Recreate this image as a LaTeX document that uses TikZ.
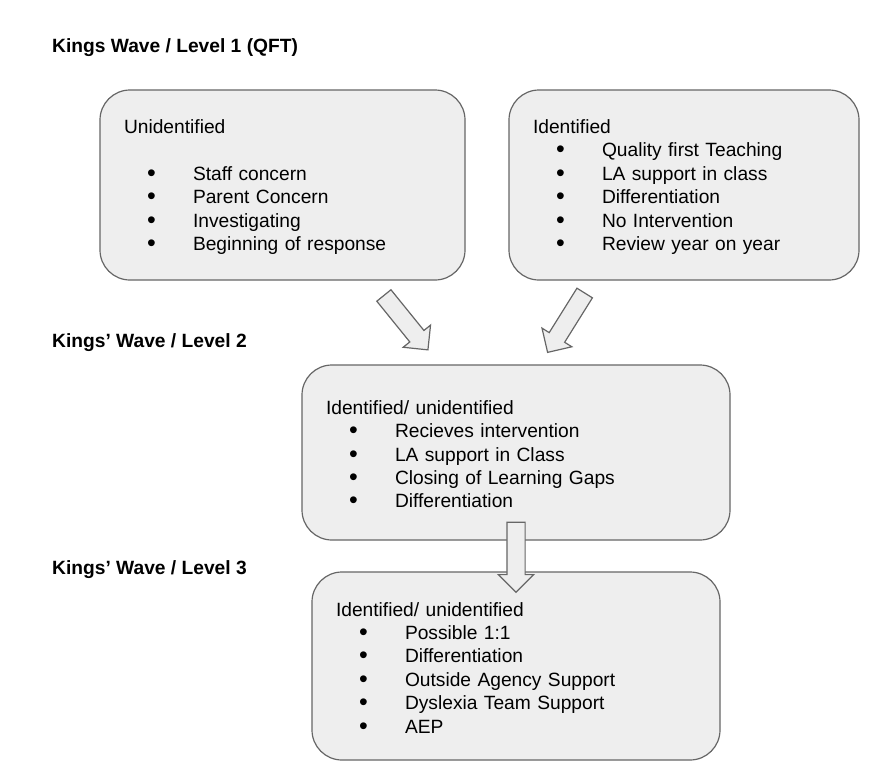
\documentclass[tikz,border=0pt]{standalone}
\usepackage{fontspec}
\setmainfont{Liberation Sans}
\usetikzlibrary{shapes.arrows,positioning}
\definecolor{boxfill}{HTML}{EEEEEE}
\definecolor{boxline}{HTML}{666666}
\newcommand{\itm}[1]{\hspace*{23pt}\makebox[46pt][l]{\raisebox{-1pt}{\scalebox{1.3}{\textbullet}}}#1}
\newcommand{\tp}{\rule{0pt}{18pt}}

\begin{document}
\begin{tikzpicture}[x=1pt,y=-1pt,
    box/.style={draw=boxline,fill=boxfill,line width=1.2pt,rounded corners=30pt,
        inner xsep=24pt,inner ysep=0pt,align=left,font=\fontsize{19.2}{23.4}\selectfont},
    lvl/.style={anchor=base west,inner sep=0pt,font=\bfseries\fontsize{19.2}{23}\selectfont},
    blk/.style={single arrow,draw=boxline,fill=boxfill,line width=1.2pt,minimum height=70pt,
        single arrow head extend=8.5pt,inner xsep=0pt,inner ysep=8.5pt,anchor=tail}]
    \useasboundingbox (0,0) rectangle (875,763);
    \node[lvl] (lvlA) at (52,52) {Kings Wave / Level 1 (QFT)};
    \node[lvl] (lvlB) at (52,347) {Kings' Wave / Level 2};
    \node[lvl] (lvlC) at (52,574) {Kings' Wave / Level 3};
    \node[box,text width=317pt,minimum height=190pt] (unid) at (282.5,185)
        {\tp Unidentified\\[23.4pt]\itm{Staff concern}\\\itm{Parent Concern}\\\itm{Investigating}\\\itm{Beginning of response}};
    \node[box,text width=302pt,minimum height=190pt] (ident) at (684,185)
        {\tp Identified\\\itm{Quality first Teaching}\\\itm{LA support in class}\\\itm{Differentiation}\\\itm{No Intervention}\\\itm{Review year on year}};
    \node[box,text width=380pt,minimum height=175pt] (mid) at (516,452.5)
        {\tp Identified/ unidentified\\\itm{Recieves intervention}\\\itm{LA support in Class}\\\itm{Closing of Learning Gaps}\\\itm{Differentiation}};
    \node[box,text width=360pt,minimum height=188pt] (low) at (516,666)
        {\tp Identified/ unidentified\\\itm{Possible 1:1}\\\itm{Differentiation}\\\itm{Outside Agency Support}\\\itm{Dyslexia Team Support}\\\itm{AEP}};
    \node[blk,rotate=-51] (ar1) at (383.5,295) {};
    \node[blk,rotate=-122] (ar2) at (585,292.5) {};
    \node[blk,rotate=-90] (ar3) at ([yshift=19pt]mid.south) {};
\end{tikzpicture}
\end{document}
